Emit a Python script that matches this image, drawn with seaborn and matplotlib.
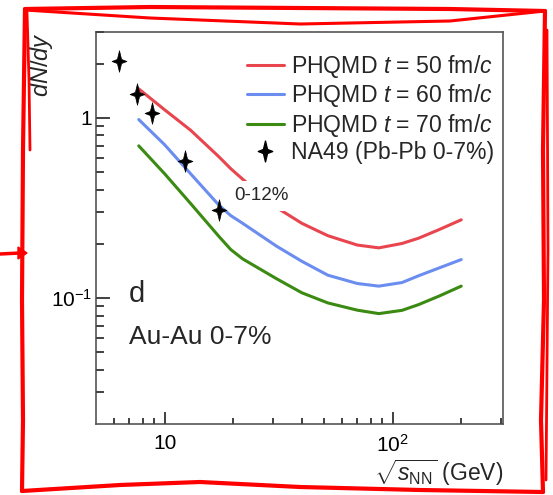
import numpy as np
import pandas as pd
import matplotlib
matplotlib.use("Agg")
import matplotlib.pyplot as plt
import seaborn as sns
from matplotlib.path import Path
from matplotlib.lines import Line2D
from matplotlib.ticker import FixedLocator, FuncFormatter, NullFormatter

# ---------------- data ----------------
x_model = [7.7, 10, 13, 17.3, 19.5, 22, 31, 40, 52, 70, 87, 110, 130, 160, 200]
red_50 = [1.45, 1.11, 0.855, 0.609, 0.523, 0.457, 0.318, 0.26, 0.222, 0.197, 0.19, 0.201, 0.215, 0.24, 0.272]
blue_60 = [0.98, 0.71, 0.49, 0.328, 0.287, 0.26, 0.194, 0.160, 0.134, 0.1205, 0.1165, 0.122, 0.133, 0.147, 0.1636]
green_70 = [0.70, 0.49, 0.335, 0.22, 0.186, 0.165, 0.128, 0.107, 0.094, 0.0857, 0.082, 0.0855, 0.092, 0.1026, 0.1165]

na49_x = [6.3, 7.6, 8.8, 12.3, 17.3]
na49_y = [2.08, 1.35, 1.07, 0.577, 0.308]

x_major = [10, 100]
x_minor = [6, 7, 8, 9, 20, 30, 40, 50, 60, 70, 80, 90, 200, 300]
y_major = [0.1, 1]
y_minor = [0.03, 0.04, 0.05, 0.06, 0.07, 0.08, 0.09, 0.2, 0.3, 0.4, 0.5, 0.6, 0.7, 0.8, 0.9, 2, 3]

series_labels = [r"PHQMD $t$ = 50 fm/$c$", r"PHQMD $t$ = 60 fm/$c$", r"PHQMD $t$ = 70 fm/$c$"]
series_colors = ["#e8454f", "#6b8df0", "#3b8a12"]
data_label = "NA49 (Pb-Pb 0-7%)"

# ---------------- style ----------------
sns.set_theme(style="white")
plt.rcParams.update({
    "font.family": ["Liberation Sans", "DejaVu Sans"],
    "mathtext.fontset": "custom",
    "mathtext.rm": "Liberation Sans",
    "mathtext.it": "Liberation Sans:italic",
    "mathtext.bf": "Liberation Sans:bold",
    "mathtext.sf": "Liberation Sans",
})

fig = plt.figure(figsize=(5.53, 4.95), dpi=100)
ax = fig.add_axes([96 / 553, 1 - 424 / 495, (503 - 96) / 553, (424 - 32) / 495])
ax.set_xscale("log")
ax.set_yscale("log")

df = pd.DataFrame({
    "x": x_model * 3,
    "y": red_50 + blue_60 + green_70,
    "series": [series_labels[0]] * len(x_model) + [series_labels[1]] * len(x_model) + [series_labels[2]] * len(x_model),
})
palette = dict(zip(series_labels, series_colors))
sns.lineplot(data=df, x="x", y="y", hue="series", palette=palette, ax=ax,
             linewidth=2.2, sort=True, estimator=None, legend=False, zorder=2)

# four-pointed star marker
star = Path([(0, 1.45), (0.28, 0.28), (1, 0), (0.28, -0.28), (0, -1.45),
             (-0.28, -0.28), (-1, 0), (-0.28, 0.28), (0, 1.45)],
            [Path.MOVETO] + [Path.LINETO] * 7 + [Path.CLOSEPOLY])
sns.scatterplot(x=na49_x, y=na49_y, marker=star, s=240, color="black",
                edgecolor="black", linewidth=0.5, ax=ax, zorder=4, legend=False)

ax.set_xlim(5, 305)
ax.set_ylim(0.02, 3)

# ticks
ax.xaxis.set_major_locator(FixedLocator(x_major))
ax.xaxis.set_major_formatter(FuncFormatter(lambda v, p: "10" if abs(v - 10) < 1e-6 else r"10$^{2}$"))
ax.xaxis.set_minor_locator(FixedLocator(x_minor))
ax.xaxis.set_minor_formatter(NullFormatter())
ax.yaxis.set_major_locator(FixedLocator(y_major))
ax.yaxis.set_major_formatter(FuncFormatter(lambda v, p: "1" if abs(v - 1) < 1e-6 else r"10$^{-1}$"))
ax.yaxis.set_minor_locator(FixedLocator(y_minor))
ax.yaxis.set_minor_formatter(NullFormatter())
ax.tick_params(axis="x", which="major", direction="in", bottom=True, top=False, length=9,
               width=1.1, color="#444444", labelcolor="black", labelsize=15, pad=7)
ax.tick_params(axis="y", which="major", direction="in", left=True, right=False, length=9,
               width=1.1, color="#444444", labelcolor="black", labelsize=15, pad=3)
ax.tick_params(which="minor", direction="in", bottom=True, left=True, top=False, right=False,
               length=4.5, width=1.1, color="#444444")

# inward tick marks also drawn as segments on the axis transforms (same positions)
seg_kw = dict(colors="#444444", linewidth=1.4, zorder=5, clip_on=False)
ax.vlines(ax.xaxis.get_majorticklocs(), 0, 12 / 392, transform=ax.get_xaxis_transform(), **seg_kw)
ax.vlines(ax.xaxis.get_minorticklocs(), 0, 6 / 392, transform=ax.get_xaxis_transform(), **seg_kw)
ax.hlines(ax.yaxis.get_majorticklocs(), 0, 14 / 407, transform=ax.get_yaxis_transform(), **seg_kw)
ax.hlines(ax.yaxis.get_minorticklocs(), 0, 8 / 407, transform=ax.get_yaxis_transform(), **seg_kw)

for sp in ax.spines.values():
    sp.set_color("#555555")
    sp.set_linewidth(1.2)

ax.set_xlabel(r"$\sqrt{s_{\mathrm{NN}}}$ (GeV)", fontsize=16.5, loc="right")
ax.xaxis.set_label_coords(1.0, -0.085)
ax.set_ylabel(r"$dN/dy$", fontsize=17, loc="top")
ax.yaxis.set_label_coords(-0.10, 1.0)

# texts
ax.text(6.97, 0.0946, "d", fontsize=21, ha="left", va="baseline")
ax.text(6.97, 0.0555, "Au-Au 0-7%", fontsize=19, ha="left", va="baseline")
ax.text(26.7, 0.369, "0-12%", fontsize=13.5, ha="center", va="center", zorder=3,
        bbox=dict(boxstyle="square,pad=0.35", facecolor="white", edgecolor="none"))

# legend
handles = [Line2D([], [], color=c, linewidth=2.2) for c in series_colors]
handles.append(Line2D([], [], linestyle="none", marker=star, markersize=15, color="black"))
ax.legend(handles, series_labels + [data_label], loc="upper right", frameon=False,
          fontsize=16.6, bbox_to_anchor=(1.0, 0.97), borderaxespad=0, handlelength=1.6,
          handletextpad=0.3, labelspacing=0.1)

# hand-drawn red frame
red = "#ff0000"
def stroke(xs, ys, lw=3.0):
    fig.add_artist(Line2D(np.array(xs) / 553, 1 - np.array(ys) / 495, color=red,
                          linewidth=lw, solid_capstyle="round", solid_joinstyle="round"))
stroke([25, 150, 300, 450, 545], [9, 7, 8, 9, 11])
stroke([25, 150, 300, 450, 545], [10, 18, 24, 21, 11], lw=2.2)
stroke([25, 23, 22, 23, 22], [9, 150, 300, 420, 491])
stroke([27, 29, 30], [12, 80, 150], lw=2.0)
stroke([545, 543, 544, 541, 543], [11, 150, 300, 420, 492])
stroke([547, 548, 546], [30, 250, 480], lw=2.0)
stroke([22, 120, 200, 300, 420, 543], [491, 485, 482, 487, 490, 492])
stroke([0, 20], [254, 253], lw=2.5)
fig.add_artist(matplotlib.patches.Polygon(
    [(18 / 553, 1 - 247 / 495), (18 / 553, 1 - 259 / 495), (27 / 553, 1 - 253 / 495)],
    closed=True, color=red))

fig.savefig("out.png", dpi=100)
